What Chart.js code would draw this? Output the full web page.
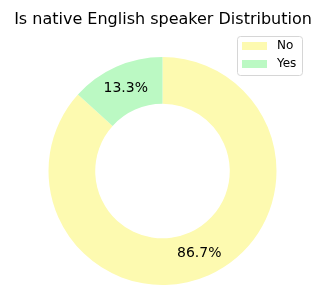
<!DOCTYPE html>
<html>
<head>
<meta charset="utf-8">
<script src="https://cdn.jsdelivr.net/npm/chart.js@4/dist/chart.umd.min.js"></script>
<style>
  html, body { margin: 0; padding: 0; background: #fff; }
  #wrap { width: 314px; height: 285px; }
</style>
</head>
<body>
<div id="wrap"><canvas id="chart" width="314" height="285"></canvas></div>
<script>
// Data
const categories = ['No', 'Yes'];
const percentages = [86.7, 13.3];
const sliceColors = ['#fdfab0', '#bbf9c3'];
const chartTitle = 'Is native English speaker Distribution';

const FONT = "'DejaVu Sans', sans-serif";

// Title drawn straight on the canvas (keeps the regular, non-condensed face)
const plainTitle = {
  id: 'plainTitle',
  afterDraw(chart) {
    const { ctx } = chart;
    ctx.save();
    ctx.font = `16px ${FONT}`;
    ctx.fillStyle = '#000';
    ctx.textAlign = 'center';
    ctx.textBaseline = 'alphabetic';
    ctx.fillText(chartTitle, 163, 24);
    ctx.restore();
  }
};

// Percent labels in the middle of each ring segment
const pctLabels = {
  id: 'pctLabels',
  afterDatasetsDraw(chart) {
    const { ctx } = chart;
    const meta = chart.getDatasetMeta(0);
    ctx.save();
    ctx.font = `14px ${FONT}`;
    ctx.fillStyle = '#000';
    ctx.textAlign = 'center';
    ctx.textBaseline = 'middle';
    meta.data.forEach((arc, i) => {
      const p = arc.tooltipPosition();
      ctx.fillText(percentages[i].toFixed(1) + '%', p.x, p.y);
    });
    ctx.restore();
  }
};

// Matplotlib-like legend box in the upper right
const boxLegend = {
  id: 'boxLegend',
  afterDraw(chart) {
    const { ctx } = chart;
    const x = 237, y = 36, w = 65, h = 39, r = 3;
    ctx.save();
    ctx.fillStyle = 'rgba(255,255,255,0.8)';
    ctx.strokeStyle = '#d6d6d6';
    ctx.lineWidth = 1;
    ctx.beginPath();
    ctx.roundRect(x + 0.5, y + 0.5, w, h, r);
    ctx.fill();
    ctx.stroke();
    ctx.font = `12px ${FONT}`;
    ctx.textBaseline = 'middle';
    ctx.textAlign = 'left';
    categories.forEach((label, i) => {
      const cy = y + 10 + i * 18;
      ctx.fillStyle = sliceColors[i];
      ctx.fillRect(242, cy - 4, 25, 8);
      ctx.fillStyle = '#000';
      ctx.fillText(label, 277, cy);
    });
    ctx.restore();
  }
};

new Chart(document.getElementById('chart'), {
  type: 'doughnut',
  data: {
    labels: categories,
    datasets: [{
      data: percentages,
      backgroundColor: sliceColors,
      borderWidth: 0,
      hoverOffset: 0
    }]
  },
  options: {
    responsive: false,
    animation: false,
    cutout: '59%',
    rotation: 0,
    layout: {
      padding: { top: 57, left: 48, right: 37, bottom: 0 }
    },
    plugins: {
      legend: { display: false },
      tooltip: { enabled: false },
      title: { display: false }
    }
  },
  plugins: [pctLabels, boxLegend, plainTitle]
});
</script>
</body>
</html>
